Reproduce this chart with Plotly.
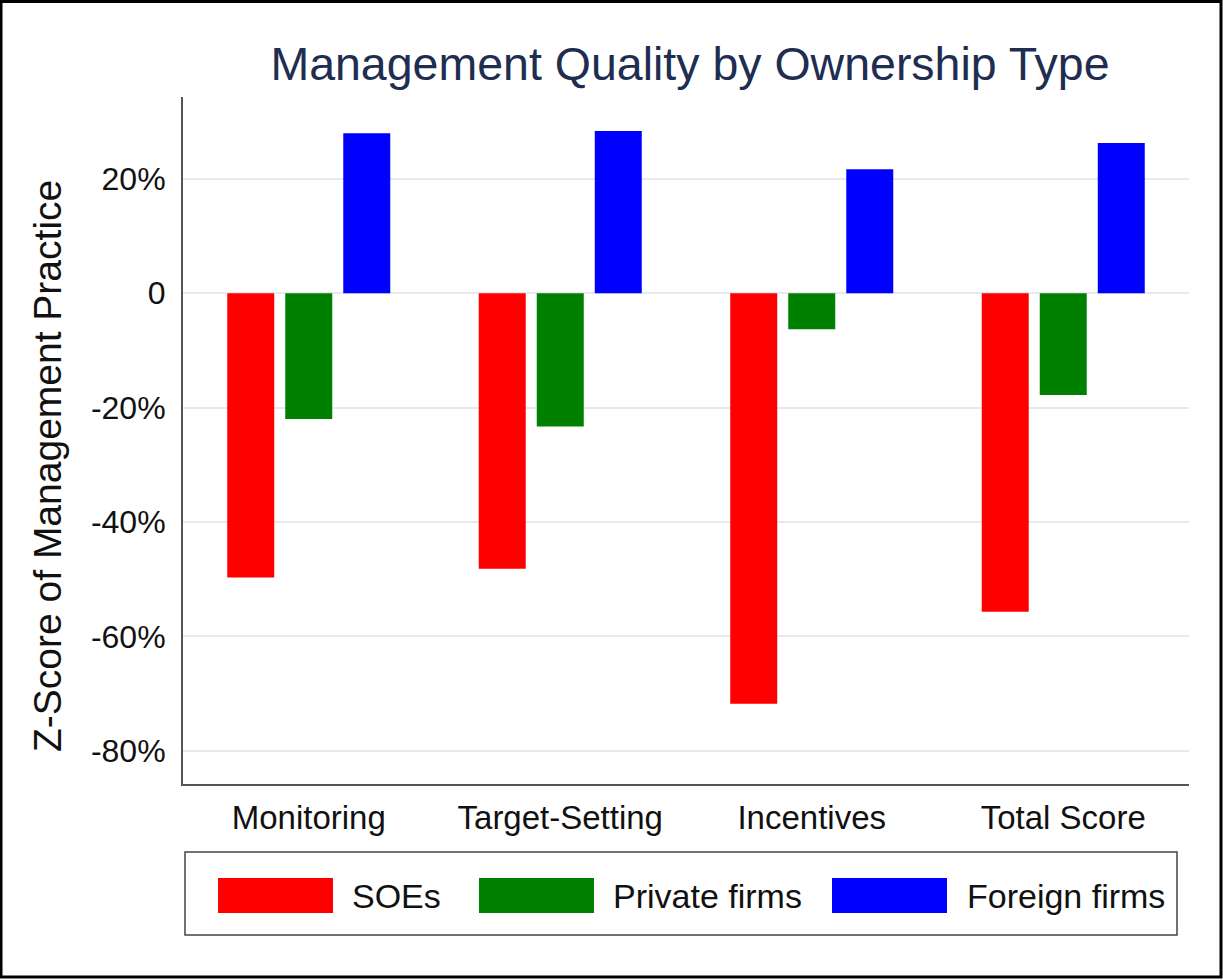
import plotly.graph_objects as go

# ---- data ----
categories = ["Monitoring", "Target-Setting", "Incentives", "Total Score"]
series_names = ["SOEs", "Private firms", "Foreign firms"]
soe_values = [-49.7, -48.2, -71.8, -55.7]
private_values = [-22.0, -23.3, -6.3, -17.8]
foreign_values = [28.0, 28.4, 21.7, 26.3]
tick_values = [-80, -60, -40, -20, 0, 20]
tick_labels = ["-80%", "-60%", "-40%", "-20%", "0", "20%"]

# ---- style ----
colors = ["#ff0000", "#008000", "#0000ff"]
FONT = "Liberation Sans, Arial, sans-serif"
W, H = 1223, 980
L, R, T, B = 183, 34, 97, 196
pw = W - L - R
ph = H - T - B


def px(x):
    return (x - L) / pw


def py(y):
    return (H - B - y) / ph


fig = go.Figure()
for name, vals, col in zip(series_names, [soe_values, private_values, foreign_values], colors):
    fig.add_trace(go.Bar(x=categories, y=vals, name=name, marker=dict(color=col, line=dict(width=0)),
                         showlegend=False))

shapes = []
annotations = []

# outer frame
shapes.append(dict(type="rect", xref="paper", yref="paper", x0=px(1), x1=px(1221), y0=py(977), y1=py(1.5),
                   line=dict(color="black", width=3), fillcolor="rgba(0,0,0,0)", layer="above"))

# legend box
shapes.append(dict(type="rect", xref="paper", yref="paper", x0=px(185), x1=px(1177), y0=py(935), y1=py(852),
                   line=dict(color="#444444", width=1.5), fillcolor="rgba(0,0,0,0)"))
sw_x = [218, 479, 832]
txt_x = [350, 611, 965]
for name, col, sx, tx in zip(series_names, colors, sw_x, txt_x):
    shapes.append(dict(type="rect", xref="paper", yref="paper", x0=px(sx), x1=px(sx + 115), y0=py(913), y1=py(878),
                       line=dict(width=0), fillcolor=col))
    annotations.append(dict(text=name, xref="paper", yref="paper", x=px(tx), y=py(896), xanchor="left",
                            yanchor="middle", showarrow=False, font=dict(family=FONT, size=34, color="#111111")))

# y-axis title
annotations.append(dict(text="Z-Score of Management Practice", xref="paper", yref="paper", x=px(47), y=py(466),
                        xanchor="center", yanchor="middle", textangle=-90, showarrow=False,
                        font=dict(family=FONT, size=39, color="#111111")))

fig.update_layout(
    width=W, height=H,
    margin=dict(l=L, r=R, t=T, b=B),
    paper_bgcolor="white", plot_bgcolor="white",
    barmode="group", bargap=0.308, bargroupgap=0.19,
    title=dict(text="Management Quality by Ownership Type", x=690 / W, xanchor="center",
               y=1 - 64 / H, yanchor="middle", font=dict(family=FONT, size=46.5, color="#1e2d50")),
    shapes=shapes, annotations=annotations,
    showlegend=False,
)
fig.update_xaxes(type="category", range=[-0.5, 3.5], showline=True, linecolor="#555555", linewidth=2,
                 showgrid=False, ticks="", ticklabelstandoff=3,
                 tickfont=dict(family=FONT, size=33, color="#111111"))
fig.update_yaxes(range=[-85.83, 34.33], tickvals=tick_values, ticktext=tick_labels, showline=True,
                 linecolor="#555555", linewidth=2, showgrid=True, gridcolor="#e6eaee", gridwidth=2,
                 zeroline=False, ticks="", ticklabelstandoff=9,
                 tickfont=dict(family=FONT, size=32, color="#111111"))

fig.write_html("out.html")
